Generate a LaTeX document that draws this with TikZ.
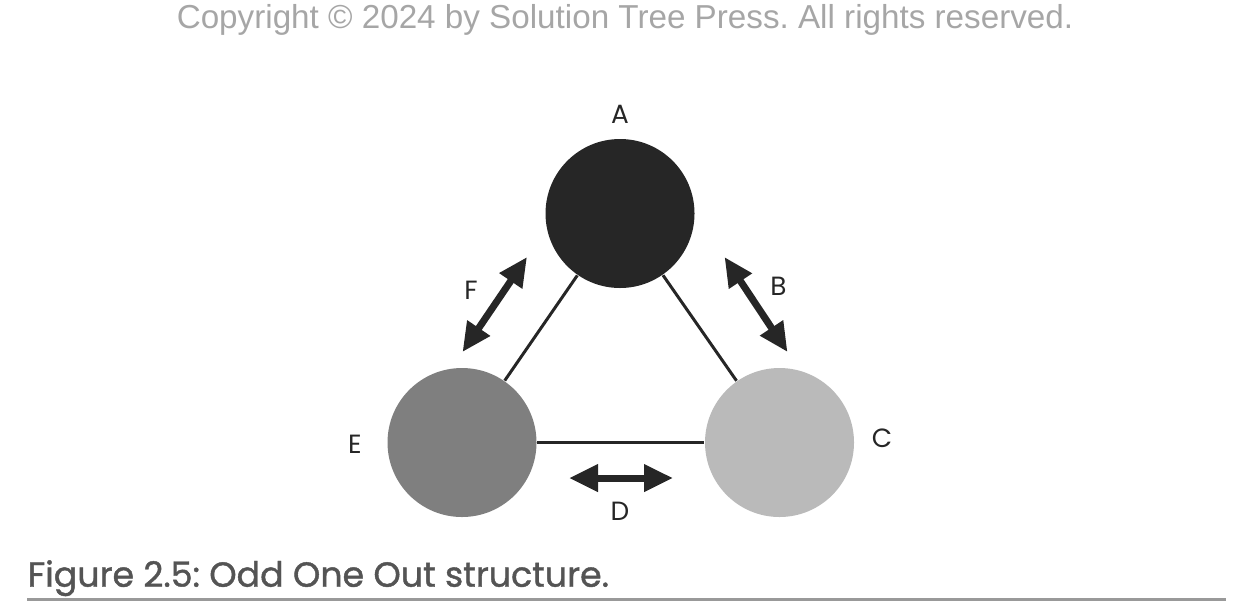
\documentclass[tikz,border=0pt]{standalone}
\usepackage{fontspec}
\setmainfont{Poppins}
\newfontfamily\copyfont{Liberation Sans}
\newfontfamily\capfont[FakeBold=1.2]{Poppins}
\usetikzlibrary{arrows.meta}
\frenchspacing

\definecolor{ink}{HTML}{262626}
\definecolor{midgray}{HTML}{7F7F7F}
\definecolor{lightgray}{HTML}{BABABA}

\begin{document}
\begin{tikzpicture}[
    ball/.style={circle, minimum size=14.9mm, inner sep=0pt},
    link/.style={line width=0.85pt, draw=ink},
    swap/.style={line width=2pt, draw=ink,
      {Triangle[length=2.9mm,width=2.6mm]}-{Triangle[length=2.9mm,width=2.6mm]}},
    tag/.style={font=\fontsize{7.5}{8}\selectfont, text=ink, inner sep=0pt}
  ]
    \useasboundingbox (0,0) rectangle (12.51,6.08);
    \node[anchor=base, inner sep=0pt, text=black!35, font=\copyfont\fontsize{9.45}{11}\selectfont]
      (copyright) at (6.25,5.797) {Copyright \textcopyright{} 2024 by Solution Tree Press. All rights reserved.};

    \node[ball, fill=ink] (A) at (6.20,3.945) {};
    \node[ball, fill=midgray] (E) at (4.62,1.655) {};
    \node[ball, fill=lightgray] (C) at (7.795,1.655) {};
    \draw[link] (A) -- (E);
    \draw[link] (A) -- (C);
    \draw[link] (E) -- (C);

    \coordinate (f1) at (5.27,3.51);
    \coordinate (f2) at (4.625,2.56);
    \coordinate (b1) at (7.245,3.51);
    \coordinate (b2) at (7.875,2.56);
    \coordinate (d1) at (5.69,1.30);
    \coordinate (d2) at (6.73,1.30);
    \draw[swap] (f1) -- (f2);
    \draw[swap] (b1) -- (b2);
    \draw[swap] (d1) -- (d2);

    \foreach \name/\x/\y in {A/6.20/4.94, B/7.785/3.22, C/8.82/1.70, D/6.20/0.97, E/3.55/1.64, F/4.71/3.18}{
      \node[tag] (tag\name) at (\x,\y) {\name};
    }

    \node[anchor=base west, inner sep=0pt, text=black!67, font=\capfont\fontsize{9.9}{12}\selectfont]
      (caption) at (0.27,0.213) {Figure 2.5: Odd One Out structure.};
    \coordinate (rulel) at (0.27,0.087);
    \coordinate (ruler) at (12.26,0.087);
    \draw[line width=1pt, draw=black!40] (rulel) -- (ruler);
\end{tikzpicture}
\end{document}
